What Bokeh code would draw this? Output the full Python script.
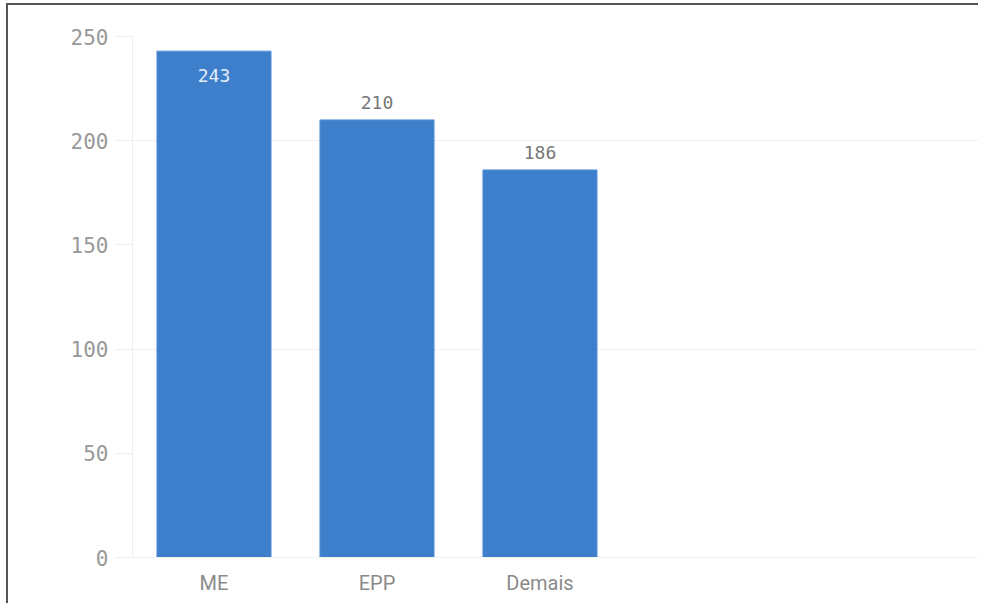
from bokeh.plotting import figure
from bokeh.models import ColumnDataSource, FixedTicker, Range1d, LabelSet
from bokeh.core.properties import value
from bokeh.embed import file_html
from bokeh.resources import INLINE

categories = ["ME", "EPP", "Demais"]
values = [243, 210, 186]
y_ticks = [0, 50, 100, 150, 200, 250]
grid_ticks = [0, 100, 200]

x = [i + 0.5 for i in range(len(categories))]
inside = [v > 230 for v in values]
src = ColumnDataSource(dict(
    x=x, top=values, label=[str(v) for v in values],
    lab_y=values,
    off=[-31 if s else 11 for s in inside],
    col=["#e6eefa" if s else "#777777" for s in inside],
))

# page offset for the document frame (top/left border)
OX, OY = 8, 7
CUT = 2

p = figure(width=982 - OX - CUT, height=605 - OY + 2, output_backend="svg", toolbar_location=None,
           x_range=Range1d(0, 5.215 - CUT / 163), y_range=Range1d(0, 250.5),
           min_border_left=132 - OX, min_border_right=0, min_border_top=37 - OY,
           min_border_bottom=48)
p.styles = {"border-top": "2px solid #555555", "border-left": "2px solid #555555",
            "margin-left": "6px", "margin-top": "3px"}
p.outline_line_color = None
p.vbar(x="x", top="top", width=0.7, source=src, fill_color="#3e7fcc",
       line_color="#5a92d6", line_width=1)

p.add_layout(LabelSet(x="x", y="lab_y", text="label", source=src, y_offset="off",
                      text_align="center", text_baseline="bottom",
                      text_color="col", text_font=value("DejaVu Sans Mono"),
                      text_font_size="18px"))

# y axis
ya = p.yaxis[0]
ya.ticker = FixedTicker(ticks=y_ticks)
ya.major_tick_out = 17
ya.major_tick_in = 0
ya.minor_tick_line_color = None
ya.major_tick_line_color = "#eeeeee"
ya.axis_line_color = "#eeeeee"
ya.major_label_text_font = "DejaVu Sans Mono"
ya.major_label_text_font_size = "21px"
ya.major_label_text_color = "#999999"
ya.major_label_standoff = 7

# x axis
xa = p.xaxis[0]
xa.ticker = FixedTicker(ticks=x)
xa.major_label_overrides = {xi: c for xi, c in zip(x, categories)}
xa.major_tick_line_color = None
xa.minor_tick_line_color = None
xa.axis_line_color = "#f0f0f0"
xa.major_label_text_font = "Roboto"
xa.major_label_text_font_size = "20px"
xa.major_label_text_color = "#8a8a8a"
xa.major_label_standoff = 7

p.xgrid.grid_line_color = None
p.ygrid.ticker = FixedTicker(ticks=grid_ticks)
p.ygrid.grid_line_color = "#f0f0f0"

open("out.html", "w").write(file_html(p, INLINE))
